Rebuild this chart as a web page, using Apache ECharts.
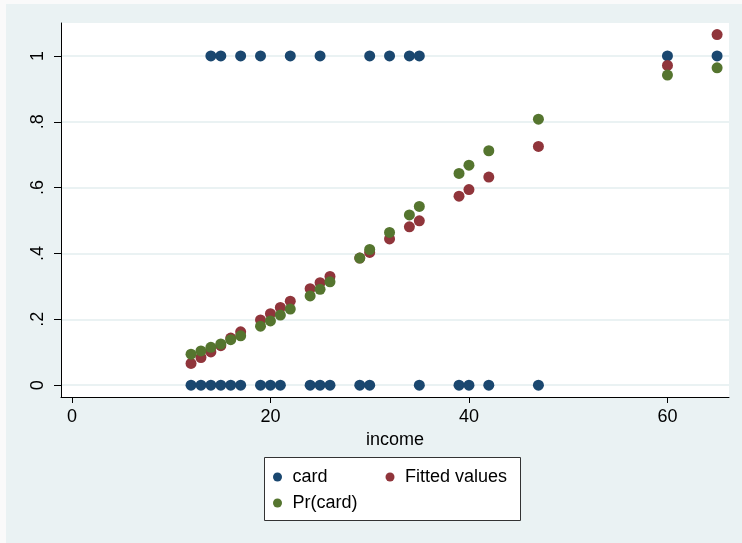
<!DOCTYPE html>
<html>
<head>
<meta charset="utf-8">
<script src="https://cdn.jsdelivr.net/npm/echarts@6/dist/echarts.min.js"></script>
<style>
html,body{margin:0;padding:0;background:#fafafa;}
#main{width:742px;height:543px;}
</style>
</head>
<body>
<div id="main"></div>
<script>
// Observations: income and card (0/1)
var obsIncome = [12,13,14,14,15,15,16,17,17,19,19,20,21,22,24,25,25,26,29,30,30,32,34,35,35,39,40,42,47,60,65];
var obsCard   = [0, 0, 0, 1, 0, 1, 0, 0, 1, 0, 1, 0, 0, 1, 0, 0, 1, 0, 0, 0, 1, 1, 1, 0, 1, 0, 0, 0, 0, 1, 1];
// Predictions at each distinct income level
var incomeLevels = [12,13,14,15,16,17,19,20,21,22,24,25,26,29,30,32,34,35,39,40,42,47,60,65];
var fittedValues = [0.066,0.084,0.101,0.120,0.143,0.162,0.198,0.217,0.236,0.255,0.293,0.311,0.330,0.386,0.403,0.444,0.481,0.499,0.574,0.594,0.632,0.725,0.971,1.065];
var prCard       = [0.094,0.104,0.115,0.125,0.138,0.150,0.179,0.195,0.213,0.231,0.271,0.291,0.314,0.386,0.412,0.464,0.517,0.543,0.643,0.668,0.712,0.808,0.942,0.964];
var xTicks = [0,20,40,60];
var yTicks = [0,0.2,0.4,0.6,0.8,1];

var FONT = '"Liberation Sans", Arial, sans-serif';
var FS = 18;
function pairs(xs, ys){ return xs.map(function(x,i){ return [x, ys[i]]; }); }

var chart = echarts.init(document.getElementById('main'), null, {renderer:'canvas'});
chart.setOption({
  backgroundColor: '#fafafa',
  animation: false,
  textStyle: {fontFamily: FONT},
  graphic: [
    {type:'rect', z:-10, silent:true, shape:{x:6,y:4,width:736,height:539}, style:{fill:'#eaf2f3'}},
    {type:'rect', z:5, silent:true, shape:{x:264.5,y:457.5,width:256,height:63}, style:{fill:'#ffffff', stroke:'#333333', lineWidth:1}}
  ],
  grid: {left:61, top:23, right:13, bottom:146, show:true, backgroundColor:'#ffffff', borderWidth:0},
  xAxis: {
    type:'value', min:-1.1, max:66.2,
    name:'income', nameLocation:'middle', nameGap:29,
    nameTextStyle:{fontSize:FS, color:'#000', fontFamily:FONT},
    axisLine:{show:true, onZero:false, lineStyle:{color:'#000', width:1}},
    axisTick:{show:true, length:6, customValues:xTicks, lineStyle:{color:'#000'}},
    axisLabel:{customValues:xTicks, fontSize:FS, color:'#000', margin:11, fontFamily:FONT},
    splitLine:{show:false}
  },
  yAxis: {
    type:'value', min:-0.036, max:1.10,
    axisLine:{show:true, onZero:false, lineStyle:{color:'#000', width:1}},
    axisTick:{show:true, length:7, customValues:yTicks, lineStyle:{color:'#000'}},
    axisLabel:{customValues:yTicks, rotate:90, fontSize:FS, color:'#000', margin:14, fontFamily:FONT,
      formatter:function(v){ var s = String(Math.round(v*10)/10); return s.replace(/^0\./,'.'); }},
    splitLine:{show:true, lineStyle:{color:'#eaf2f3', width:2}}
  },
  legend: [
    {data:['card','Fitted values'], left:273, top:468, padding:0, itemWidth:20, itemHeight:9, itemGap:58,
     icon:'circle', textStyle:{fontSize:FS, color:'#000', fontFamily:FONT}, z:10},
    {data:['Pr(card)'], left:273, top:494, padding:0, itemWidth:20, itemHeight:9,
     icon:'circle', textStyle:{fontSize:FS, color:'#000', fontFamily:FONT}, z:10}
  ],
  series: [
    {name:'card', type:'scatter', symbolSize:11, itemStyle:{color:'#1a476f', opacity:1}, data:pairs(obsIncome, obsCard), z:2},
    {name:'Fitted values', type:'scatter', symbolSize:11, itemStyle:{color:'#90353b', opacity:1}, data:pairs(incomeLevels, fittedValues), z:3},
    {name:'Pr(card)', type:'scatter', symbolSize:11, itemStyle:{color:'#55752f', opacity:1}, data:pairs(incomeLevels, prCard), z:4}
  ]
});
</script>
</body>
</html>
